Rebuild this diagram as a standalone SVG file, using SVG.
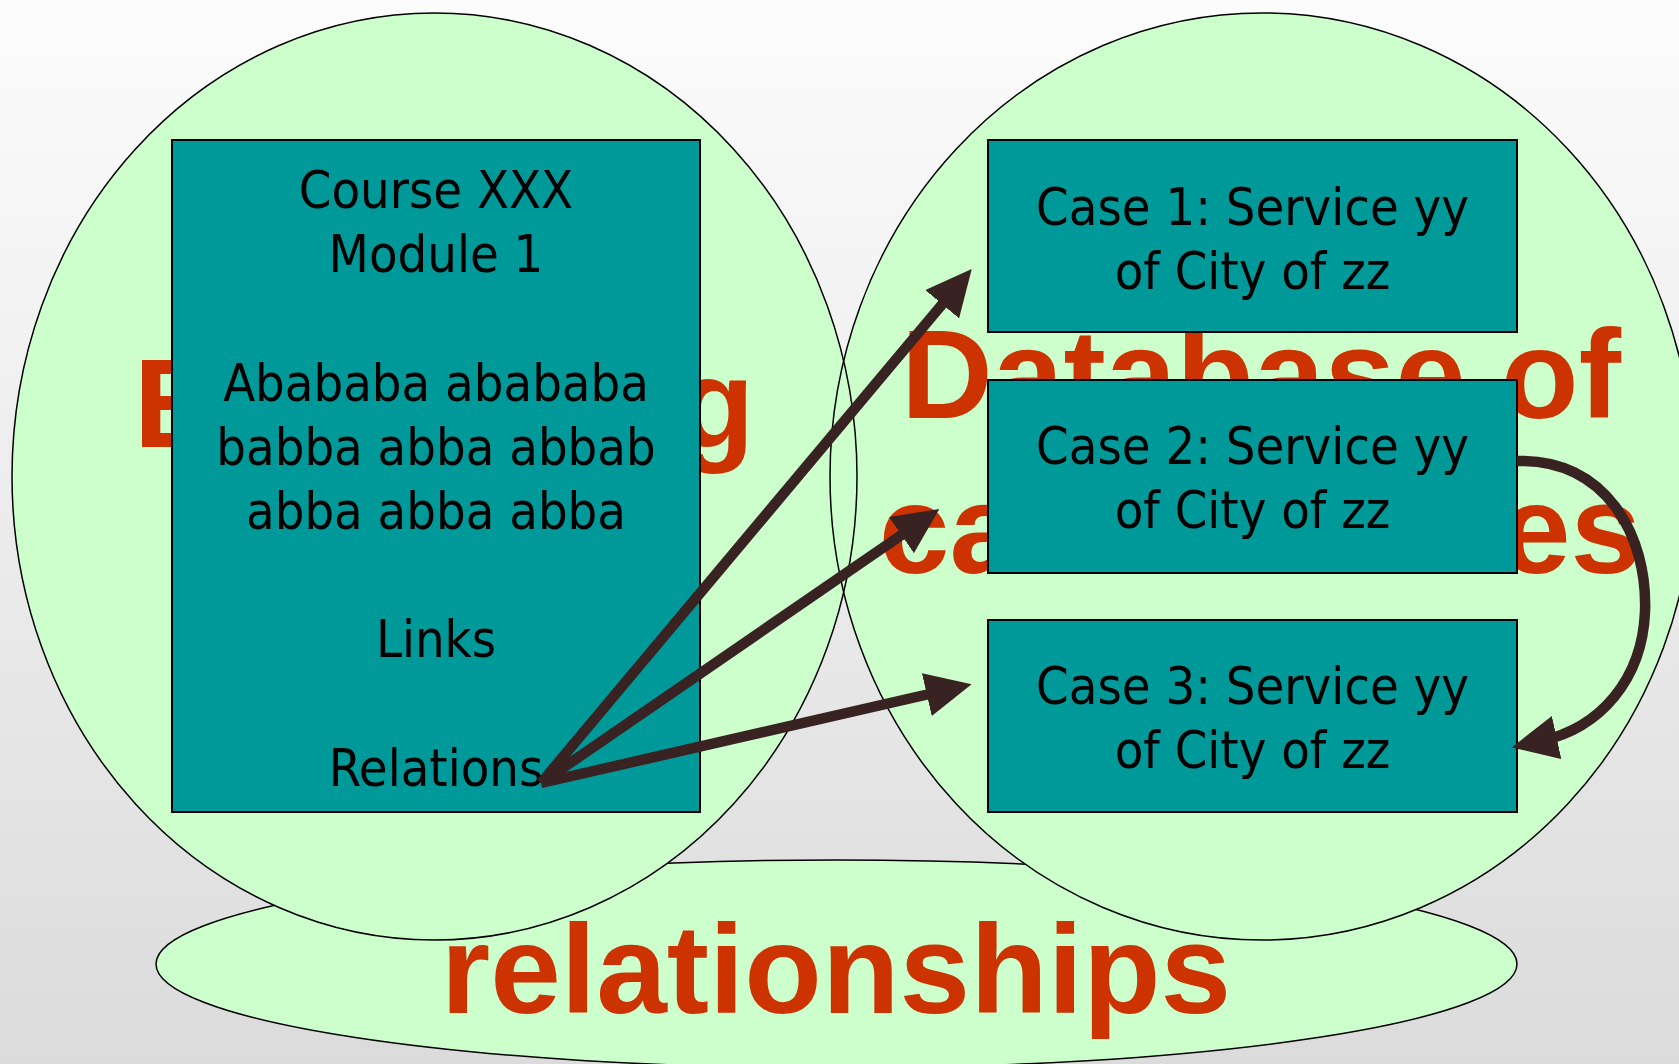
<svg xmlns="http://www.w3.org/2000/svg" width="1679" height="1064" viewBox="0 0 1679 1064">
<defs>
<linearGradient id="bg" x1="0" y1="0" x2="0" y2="1">
<stop offset="0" stop-color="#fcfcfc"/>
<stop offset="1" stop-color="#dbdbdb"/>
</linearGradient>
<marker id="ah" markerUnits="userSpaceOnUse" viewBox="0 0 46 44" refX="16" refY="22" markerWidth="46" markerHeight="44" orient="auto">
<path d="M0,0 L46,22 L0,44 z" fill="#382222"/>
</marker>
<style>
.blob{fill:#ccffcc;stroke:none}
.blobline{fill:none;stroke:#000;stroke-width:1.5}
.big{font-family:"Liberation Sans",Arial,sans-serif;font-weight:bold;font-size:127px;fill:#cc3300;text-anchor:middle}
.box{fill:#009999;stroke:#000;stroke-width:2}
.txt{font-family:"DejaVu Sans Condensed","DejaVu Sans",sans-serif;font-stretch:condensed;font-size:52px;fill:#000;text-anchor:middle}
.arrow{fill:none;stroke:#382222;stroke-width:10.5;marker-end:url(#ah)}
</style>
</defs>
<rect x="0" y="0" width="1679" height="1064" fill="url(#bg)"/>
<g id="relationships">
<ellipse cx="836.5" cy="964" rx="680.5" ry="104" fill="#ccffcc" stroke="#000" stroke-width="1.5"/>
</g>
<g id="elearning">
<ellipse class="blob" cx="434.5" cy="476.5" rx="422.5" ry="463.5"/>
</g>
<g id="database">
<ellipse class="blob" cx="1262" cy="476.5" rx="432" ry="463.5"/>
</g>
<g id="outlines">
<ellipse class="blobline" cx="434.5" cy="476.5" rx="422.5" ry="463.5"/>
<ellipse class="blobline" cx="1262" cy="476.5" rx="432" ry="463.5"/>
</g>
<g id="titles">
<text class="big" x="444" y="447">E-learning</text>
<text class="big" x="1261" y="418">Database of</text>
<text class="big" x="1260" y="573">case studies</text>
<text class="big" x="836" y="1013">relationships</text>
</g>
<g id="course">
<rect class="box" x="172" y="140" width="528" height="672"/>
<text class="txt" x="436" y="208">Course XXX</text>
<text class="txt" x="436" y="272.2">Module 1</text>
<text class="txt" x="436" y="400.6">Abababa abababa</text>
<text class="txt" x="436" y="464.8">babba abba abbab</text>
<text class="txt" x="436" y="529">abba abba abba</text>
<text class="txt" x="436" y="657.4">Links</text>
<text class="txt" x="436" y="785.8">Relations</text>
</g>
<g id="case1">
<rect class="box" x="988" y="140" width="529" height="192"/>
<text class="txt" x="1252.5" y="225">Case 1: Service yy</text>
<text class="txt" x="1252.5" y="289">of City of zz</text>
</g>
<g id="case2">
<rect class="box" x="988" y="380" width="529" height="193"/>
<text class="txt" x="1252.5" y="464">Case 2: Service yy</text>
<text class="txt" x="1252.5" y="528">of City of zz</text>
</g>
<g id="case3">
<rect class="box" x="988" y="620" width="529" height="192"/>
<text class="txt" x="1252.5" y="704">Case 3: Service yy</text>
<text class="txt" x="1252.5" y="768">of City of zz</text>
</g>
<g id="connectors">
<path class="arrow" d="M541,783 L952.5,292"/>
<path class="arrow" d="M541,783 L914.6,526"/>
<path class="arrow" d="M541,783 L942.4,691"/>
<path class="arrow" d="M1517,461 C1605,458 1648,535 1645,612 C1642,680 1600,728 1541,741"/>
</g>
</svg>
